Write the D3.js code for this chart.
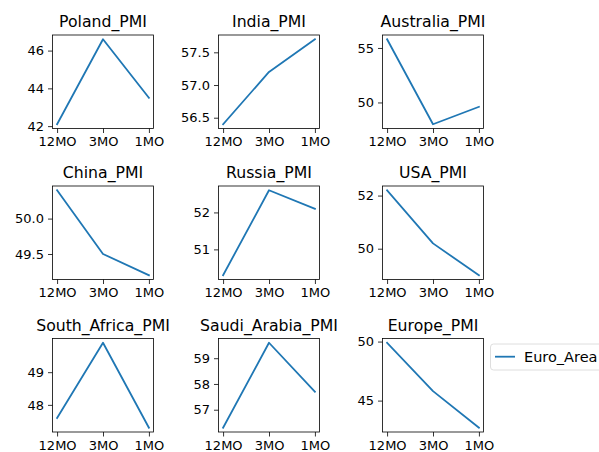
<!DOCTYPE html>
<html>
<head>
<meta charset="utf-8">
<script src="https://cdn.jsdelivr.net/npm/d3@7"></script>
<style>
  body { margin: 0; background: #fff; }
  svg { display: block; font-family: "DejaVu Sans", sans-serif; }
</style>
</head>
<body>
<div id="chart"></div>
<script>
// Periods on the x axis (same for every panel)
const periods = ["12MO", "3MO", "1MO"];

// Panel titles, in grid order (row by row)
const titles = [
    "Poland_PMI", "India_PMI", "Australia_PMI",
    "China_PMI", "Russia_PMI", "USA_PMI",
    "South_Africa_PMI", "Saudi_Arabia_PMI", "Europe_PMI"
];

// PMI values, one array per panel
const polandValues = [42.1, 46.6, 43.5];
const indiaValues = [56.4, 57.2, 57.7];
const australiaValues = [55.8, 48.0, 49.6];
const chinaValues = [50.4, 49.5, 49.2];
const russiaValues = [50.3, 52.6, 52.1];
const usaValues = [52.2, 50.2, 49.0];
const southAfricaValues = [47.6, 49.9, 47.3];
const saudiValues = [56.3, 59.6, 57.7];
const europeValues = [49.9, 45.8, 42.7];

// y tick values per panel
const polandTicks = [42, 44, 46];
const indiaTicks = [56.5, 57.0, 57.5];
const australiaTicks = [50, 55];
const chinaTicks = [49.5, 50.0];
const russiaTicks = [51, 52];
const usaTicks = [50, 52];
const southAfricaTicks = [48, 49];
const saudiTicks = [57, 58, 59];
const europeTicks = [45, 50];

const legendLabel = "Euro_Area";

const panels = [
    { values: polandValues, ticks: polandTicks, fmt: d3.format("d") },
    { values: indiaValues, ticks: indiaTicks, fmt: d3.format(".1f") },
    { values: australiaValues, ticks: australiaTicks, fmt: d3.format("d") },
    { values: chinaValues, ticks: chinaTicks, fmt: d3.format(".1f") },
    { values: russiaValues, ticks: russiaTicks, fmt: d3.format("d") },
    { values: usaValues, ticks: usaTicks, fmt: d3.format("d") },
    { values: southAfricaValues, ticks: southAfricaTicks, fmt: d3.format("d") },
    { values: saudiValues, ticks: saudiTicks, fmt: d3.format("d") },
    { values: europeValues, ticks: europeTicks, fmt: d3.format("d") },
].map((p, i) => ({ ...p, title: titles[i] }));

const width = 599;
const height = 452;
const colLeft = [52.5, 218.5, 382.5];
const rowTop = [35, 186, 338.5];
const panelW = 101;
const panelH = 93.5;
const lineColor = "#1f77b4";

const svg = d3.select("#chart")
    .append("svg")
    .attr("width", width)
    .attr("height", height);

panels.forEach((p, i) => {
    const col = i % 3;
    const row = Math.floor(i / 3);
    const g = svg.append("g")
        .attr("transform", `translate(${colLeft[col]},${rowTop[row]})`);

    // matplotlib-like 5% margins
    const x = d3.scalePoint().domain(periods).range([0, panelW]).padding(0.1);
    const [lo, hi] = d3.extent(p.values);
    const pad = (hi - lo) * 0.05;
    const y = d3.scaleLinear().domain([lo - pad, hi + pad]).range([panelH, 0]);

    const line = d3.line()
        .x((d, j) => x(periods[j]))
        .y((d) => y(d));

    g.append("path")
        .datum(p.values)
        .attr("d", line)
        .attr("fill", "none")
        .attr("stroke", lineColor)
        .attr("stroke-width", 1.8)
        .attr("stroke-linejoin", "round")
        .attr("stroke-linecap", "square");

    // Axes
    const yAxis = g.append("g")
        .call(d3.axisLeft(y).tickValues(p.ticks).tickFormat(p.fmt).tickSize(4.5).tickPadding(4));
    const xAxis = g.append("g")
        .attr("transform", `translate(0,${panelH})`)
        .call(d3.axisBottom(x).tickSize(4.5).tickPadding(4));

    [yAxis, xAxis].forEach((a) => {
        a.select(".domain").remove();
        a.selectAll("line").attr("stroke", "#000").attr("stroke-width", 0.8);
        a.selectAll("text")
            .attr("fill", "#000")
            .style("font-size", "13px")
            .style("font-family", "DejaVu Sans, sans-serif");
    });

    // Frame
    g.append("rect")
        .attr("width", panelW)
        .attr("height", panelH)
        .attr("fill", "none")
        .attr("stroke", "#000")
        .attr("stroke-width", 0.8);

    // Title
    g.append("text")
        .attr("x", panelW / 2)
        .attr("y", -8)
        .attr("text-anchor", "middle")
        .style("font-size", "15.7px")
        .attr("fill", "#000")
        .text(p.title);
});

// Legend (clipped on the right like the original)
const legend = svg.append("g").attr("transform", "translate(490.5,344)");
legend.append("rect")
    .attr("width", 130)
    .attr("height", 26)
    .attr("rx", 3)
    .attr("fill", "#fff")
    .attr("stroke", "#d6d6d6")
    .attr("stroke-width", 0.8);
legend.append("line")
    .attr("x1", 4.5)
    .attr("x2", 24.5)
    .attr("y1", 12.7)
    .attr("y2", 12.7)
    .attr("stroke", lineColor)
    .attr("stroke-width", 1.8);
legend.append("text")
    .attr("x", 33.5)
    .attr("y", 17.8)
    .style("font-size", "14.5px")
    .attr("fill", "#000")
    .text(legendLabel);
</script>
</body>
</html>
